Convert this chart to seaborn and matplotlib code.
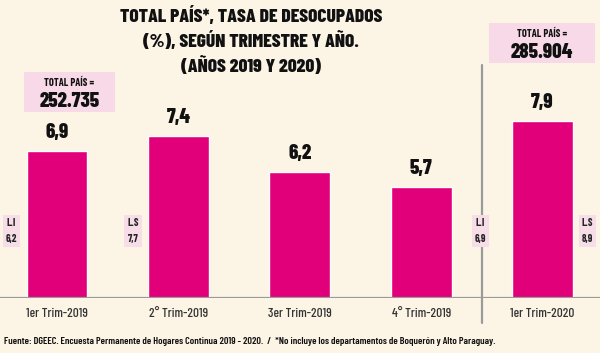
import matplotlib
matplotlib.use("Agg")
import matplotlib.pyplot as plt
import seaborn as sns
from matplotlib.patches import Rectangle

quarters = ["1er Trim-2019", "2° Trim-2019", "3er Trim-2019", "4° Trim-2019", "1er Trim-2020"]
rates = [6.9, 7.4, 6.2, 5.7, 7.9]
rate_labels = ["6,9", "7,4", "6,2", "5,7", "7,9"]
# confidence limits shown as small tags: (label, value)
limit_tags = [("L.I", "6,2"), ("L.S", "7,7"), ("L.I", "6,9"), ("L.S", "8,9")]
totals = ["252.735", "285.904"]

title = "TOTAL PAÍS*, TASA DE DESOCUPADOS\n(%), SEGÚN TRIMESTRE Y AÑO.\n(AÑOS 2019 Y 2020)"
source = ("Fuente: DGEEC. Encuesta Permanente de Hogares Continua 2019 - 2020.  /  "
          "*No incluye los departamentos de Boquerón y Alto Paraguay.")

bg = "#fcf5e6"
bar_color = "#e2007a"
box_pink = "#f8d9e7"
tag_pink = "#f6dde8"
line_gray = "#9a9a9a"

sns.set_style("white")
cond = ["Barlow Condensed", "DejaVu Sans"]
plt.rcParams["font.family"] = cond

W, H = 600, 353
fig = plt.figure(figsize=(6, 3.53), dpi=100, facecolor=bg)
ax = fig.add_axes([0, 55 / H, 1, 298 / H])
ax.set_facecolor(bg)

sns.barplot(x=quarters, y=rates, color=bar_color, saturation=1, width=0.5, ax=ax)
ax.set_xlim(-0.4695, 4.473)
ax.set_ylim(2, 2 + 298 / 30)
for s in ax.spines.values():
    s.set_visible(False)
ax.set_yticks([])
ax.set_xlabel("")
ax.set_ylabel("")
ax.tick_params(axis="x", length=0, pad=7, labelsize=9.5, labelcolor="#333333")
for t in ax.get_xticklabels():
    t.set_fontweight(500)

ax.axhline(2, color=line_gray, lw=1.6, zorder=3)
ax.axvline(3.5, ymin=-0.084, ymax=0.782, color=line_gray, lw=1.6, clip_on=False, zorder=3)

for i, (v, lab) in enumerate(zip(rates, rate_labels)):
    ax.text(i, v + 0.3, lab, ha="center", va="bottom", fontsize=15,
            fontweight=800, color="#111111")

tag_x = [-0.374, 0.626, 3.49, 4.37]
for x, (name, val) in zip(tag_x, limit_tags):
    ax.text(x, 4.23, f"{name}\n{val}", ha="center", va="center", fontsize=7.5,
            fontweight="bold", linespacing=1.7, color="#222222",
            bbox=dict(boxstyle="square,pad=0.3", fc=tag_pink, ec="none"), zorder=4)

# total boxes (pixel boxes converted to figure fraction)
for (x0, y0, x1, y1), total in zip([(24, 72, 115, 112), (489, 23, 595, 63)], totals):
    fig.patches.append(Rectangle((x0 / W, 1 - y1 / H), (x1 - x0) / W, (y1 - y0) / H,
                                 transform=fig.transFigure, fc=box_pink, ec="none"))
    cx = (x0 + x1) / 2 / W
    fig.text(cx, 1 - (y0 + 11) / H, "TOTAL PAÍS =", ha="center", va="center",
             fontsize=7.5, fontweight="bold", color="#111111")
    fig.text(cx, 1 - (y0 + 29) / H, total, ha="center", va="center",
             fontsize=15, fontweight=800, color="#111111")

fig.text(251 / W, 1 - 6 / H, title, ha="center", va="top", fontsize=14,
         fontweight=800, linespacing=1.38, color="#111111")
fig.text(4 / W, 1 - 341 / H, source, ha="left", va="center", fontsize=7.4,
         fontweight=600, color="#111111")

fig.savefig("out.png", dpi=100, facecolor=bg)
